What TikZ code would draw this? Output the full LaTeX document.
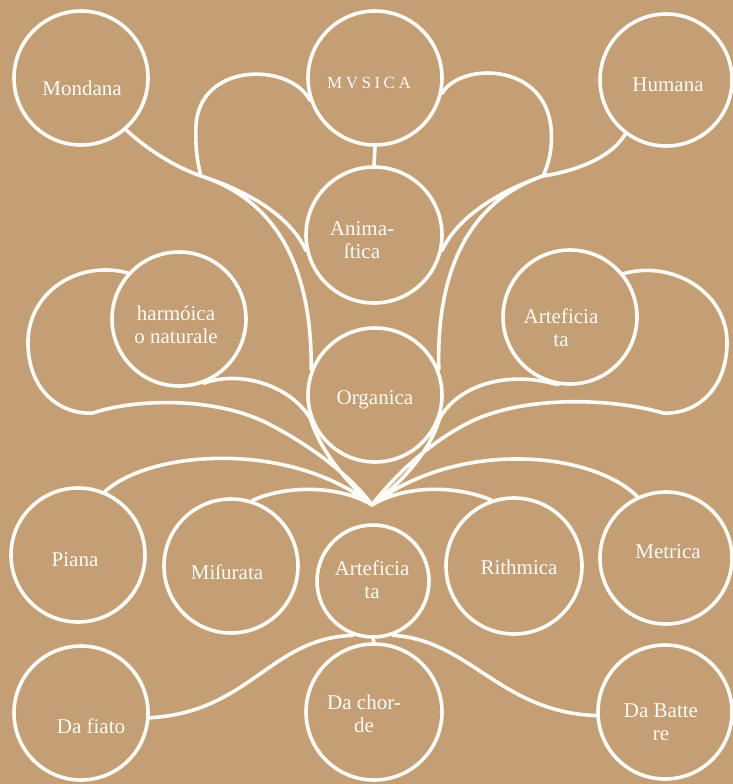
\documentclass[tikz,border=0pt]{standalone}
\usepackage{fontspec}
\setmainfont{Liberation Serif}
\usepackage{tikz}
\usetikzlibrary{calc,positioning}
\definecolor{parchment}{HTML}{C49E75}
\definecolor{chalk}{HTML}{FDFBF6}

\begin{document}
\begin{tikzpicture}[x=1pt, y=-1pt,
    ring/.style={circle, draw=chalk, line width=3.6pt, minimum size=134pt, inner sep=0pt},
    word/.style={text=chalk, font=\fontsize{21}{23}\selectfont, align=center, inner sep=0pt},
    link/.style={draw=chalk, line width=3.6pt, line cap=round, line join=round}]
\fill[parchment] (0,0) rectangle (733,784);
\useasboundingbox (0,0) rectangle (733,784);
% circles
\node[ring] (mondana) at (81,78) {};
\node[ring] (musica) at (375,78) {};
\node[ring, minimum size=132pt] (humana) at (666,80) {};
\node[ring, minimum size=136pt] (animastica) at (374,235) {};
\node[ring] (harmonica) at (179,319) {};
\node[ring] (organica) at (375,395) {};
\node[ring] (artupper) at (570,317) {};
\node[ring] (piana) at (78,555) {};
\node[ring] (misurata) at (231,566) {};
\node[ring, minimum size=112pt] (artlower) at (373,581) {};
\node[ring, minimum size=136pt] (rithmica) at (514,566) {};
\node[ring, minimum size=132pt] (metrica) at (666,558) {};
\node[ring] (dafiato) at (81,713) {};
\node[ring, minimum size=136pt] (dachorde) at (374,712) {};
\node[ring] (dabattere) at (665,712) {};
% texts
\node[word] (wmondana) at (82,88) {Mondana};
\node[word, font=\fontsize{17}{19}\selectfont] (wmusica) at (369,83) {M\kern3.5pt V\kern3.5pt S\kern3.5pt I\kern3.5pt C\kern3.5pt A};
\node[word] (whumana) at (668,85) {Humana};
\node[word] (wanimastica) at (362,240) {Anima-\\ſtica};
\node[word] (wharmonica) at (176,325) {harmóica\\o naturale};
\node[word] (worganica) at (375,400) {Organica};
\node[word] (wartupper) at (561,328) {Arteficia\\ta};
\node[word] (wpiana) at (75,560) {Piana};
\node[word] (wmisurata) at (227,572) {Miſurata};
\node[word] (wartlower) at (372,580) {Arteficia\\ta};
\node[word] (writhmica) at (519,567) {Rithmica};
\node[word] (wmetrica) at (668,552) {Metrica};
\node[word] (wdafiato) at (91,726) {Da fiato};
\node[word] (wdachorde) at (364,714) {Da chor-\\de};
\node[word] (wdabattere) at (661,722) {Da Batte\\re};
% junctions
\coordinate (jl) at (201,176);
\coordinate (jr) at (543,176);
\coordinate (fan) at (372,505);
% upper branches
\draw[link]
  (musica.south) -- (animastica.north)
  (mondana.-49) .. controls (150,152) and (178,168) .. (jl)
  (musica.199) .. controls (290,62) and (200,62) .. (196,125) .. controls (195,150) and (198,165) .. (jl)
  (jl) .. controls (245,190) and (290,215) .. (animastica.193)
  (jl) .. controls (275,200) and (312,265) .. (organica.158)
  (humana.-127) .. controls (610,160) and (570,172) .. (jr)
  (musica.-13) .. controls (460,62) and (545,62) .. (551,128) .. controls (553,150) and (548,165) .. (jr)
  (jr) .. controls (503,190) and (458,215) .. (animastica.-13)
  (jr) .. controls (473,200) and (436,265) .. (organica.22);
% middle branches
\draw[link]
  (organica.200) .. controls (320,450) and (345,480) .. (fan)
  (harmonica.-69) .. controls (240,370) and (290,385) .. (organica.200)
  (harmonica.138) .. controls (80,260) and (30,290) .. (28,340) .. controls (27,390) and (60,415) .. (93,413)
    .. controls (130,400) and (210,395) .. (267,423) .. controls (310,445) and (350,475) .. (fan)
  (organica.-20) .. controls (430,450) and (405,480) .. (fan)
  (artupper.-100) .. controls (508,370) and (458,385) .. (organica.-20)
  (artupper.39) .. controls (670,260) and (725,290) .. (727,340) .. controls (728,390) and (695,415) .. (663,413)
    .. controls (620,400) and (530,393) .. (470,422) .. controls (430,442) and (395,475) .. (fan);
% lower branches
\draw[link]
  (piana.67) .. controls (150,450) and (290,440) .. (fan)
  (misurata.72) .. controls (285,485) and (340,485) .. (fan)
  (metrica.115) .. controls (590,450) and (455,440) .. (fan)
  (rithmica.109) .. controls (455,485) and (405,485) .. (fan)
  (artlower.south) -- (dachorde.north)
  (artlower.-110) .. controls (270,638) and (250,712) .. (dafiato.-4)
  (artlower.-70) .. controls (470,640) and (500,712) .. (dabattere.183);
\end{tikzpicture}
\end{document}
